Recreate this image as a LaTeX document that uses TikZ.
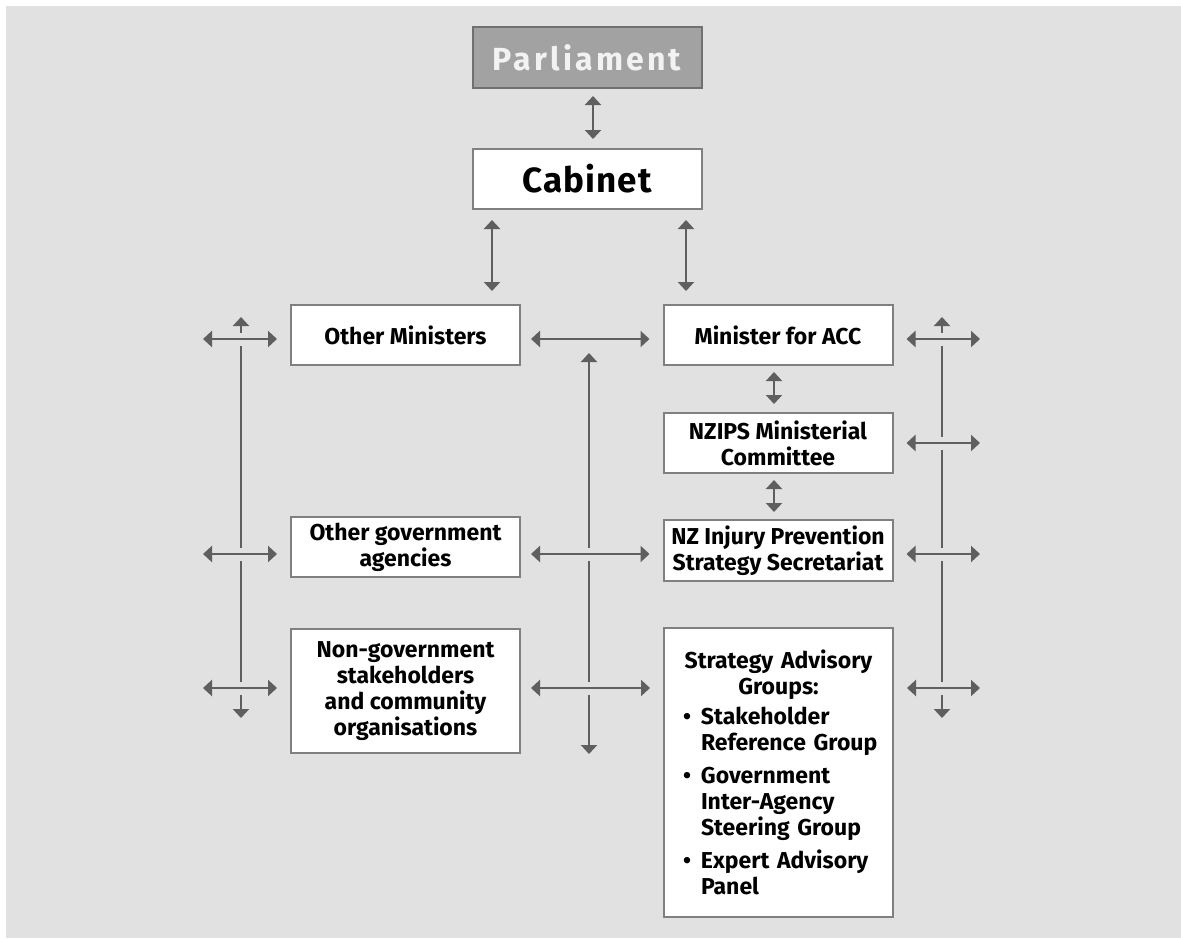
\documentclass[tikz,border=0pt]{standalone}
\usepackage{fontspec}
\setmainfont{Fira Sans}
\usetikzlibrary{arrows.meta}
\definecolor{bgc}{HTML}{E1E1E1}
\definecolor{arr}{HTML}{5F5F5F}
\definecolor{bdr}{HTML}{808080}
\definecolor{parlfill}{HTML}{A2A2A2}
\definecolor{parlbdr}{HTML}{707070}
\begin{document}
\begin{tikzpicture}[x=1pt,y=-1pt,
 box/.style={draw=bdr, line width=2pt, fill=white, inner sep=0pt, minimum width=229pt, minimum height=60pt, align=center, font=\fontsize{23}{26}\selectfont\bfseries},
 link/.style={draw=arr, line width=2.6pt, {Triangle[width=16pt,length=9pt]}-{Triangle[width=16pt,length=9pt]}},
 halo/.style={preaction={draw=bgc, line width=13pt, arrows=-}},
]
\useasboundingbox (0,0) rectangle (1181,938);
\fill[white] (0,0) rectangle (1181,938);
\fill[bgc] (6,6) rectangle (1181,938);

% boxes
\node[box, fill=parlfill, draw=parlbdr, minimum height=61pt, text=white!95!black,
      font=\fontsize{32}{36}\selectfont\bfseries\addfontfeature{LetterSpace=10}] (parl) at (587,57.5) {Parliament};
\node[box, font=\fontsize{35}{38}\selectfont\bfseries\addfontfeature{LetterSpace=3}] (cab) at (587,179) {Cabinet};
\node[box] (om) at (405.5,335) {Other Ministers};
\node[box] (acc) at (778,335) {Minister for ACC};
\node[box] (nzips) at (778,443) {NZIPS Ministerial\\Committee};
\node[box] (oga) at (405.5,547) {Other government\\agencies};
\node[box, minimum height=61pt] (nzip) at (778,550.5) {NZ Injury Prevention\\Strategy Secretariat};
\node[box, minimum height=124pt] (ngo) at (405.5,691) {Non-government\\stakeholders\\and community\\organisations};
\node[box, minimum height=289pt, inner xsep=5pt, text width=219pt, align=left] (sag) at (778.5,772.5)
 {\makebox[219pt][c]{Strategy Advisory}\\
  \makebox[219pt][c]{Groups:}\\[4pt]
  \hspace*{14pt}\makebox[18pt][l]{•}Stakeholder\\
  \hspace*{32pt}\makebox[0pt][l]{Reference Group}\\[7pt]
  \hspace*{14pt}\makebox[18pt][l]{•}Government\\
  \hspace*{32pt}Inter-Agency\\
  \hspace*{32pt}\makebox[0pt][l]{Steering Group}\\[7pt]
  \hspace*{14pt}\makebox[18pt][l]{•}\makebox[0pt][l]{Expert Advisory}\\
  \hspace*{32pt}Panel};

% helper coordinates
\coordinate (x593) at (593,0);
\coordinate (x492) at (492,0);
\coordinate (x686) at (686,0);
\coordinate (x774) at (774,0);
\coordinate (lt) at (241,317);
\coordinate (lb) at (241,718);
\coordinate (mt) at (589,353);
\coordinate (mb) at (589,754);
\coordinate (rt) at (942,317);
\coordinate (rb) at (942,718);
\coordinate (l1) at (203,339);
\coordinate (l2) at (203,554);
\coordinate (l3) at (203,688);
\coordinate (r1) at (980,339);
\coordinate (r2) at (980,443);
\coordinate (r3) at (980,554);
\coordinate (r4) at (980,688);

% vertical links
\draw[link, shorten <=7pt, shorten >=9pt] (parl.south -| x593) -- (cab.north -| x593);
\draw[link, shorten <=10pt, shorten >=13pt] (cab.south -| x492) -- (om.north -| x492);
\draw[link, shorten <=10pt, shorten >=13pt] (cab.south -| x686) -- (acc.north -| x686);
\draw[link, shorten <=6pt, shorten >=8pt] (acc.south -| x774) -- (nzips.north -| x774);
\draw[link, shorten <=6pt, shorten >=7pt] (nzips.south -| x774) -- (nzip.north -| x774);

% long vertical lines
\draw[link] (lt) -- (lb);
\draw[link] (mt) -- (mb);
\draw[link] (rt) -- (rb);

% horizontal links
\draw[link, halo, shorten >=13pt] (l1) -- (om.west |- l1);
\draw[link, halo, shorten >=13pt] (l2) -- (oga.west |- l2);
\draw[link, halo, shorten >=13pt] (l3) -- (ngo.west |- l3);
\draw[link, halo, shorten <=10pt, shorten >=13pt] (om.east |- l1) -- (acc.west |- l1);
\draw[link, halo, shorten <=10pt, shorten >=13pt] (oga.east |- l2) -- (nzip.west |- l2);
\draw[link, halo, shorten <=10pt, shorten >=13pt] (ngo.east |- l3) -- (sag.west |- l3);
\draw[link, halo, shorten <=13pt] (acc.east |- r1) -- (r1);
\draw[link, halo, shorten <=13pt] (nzips.east |- r2) -- (r2);
\draw[link, halo, shorten <=13pt] (nzip.east |- r3) -- (r3);
\draw[link, halo, shorten <=13pt] (sag.east |- r4) -- (r4);
\end{tikzpicture}
\end{document}
